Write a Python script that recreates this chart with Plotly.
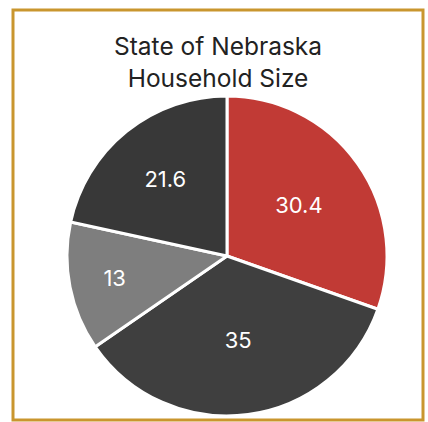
import plotly.graph_objects as go

categories = ["Slice A", "Slice B", "Slice C", "Slice D"]
values = [30.4, 35, 13, 21.6]
colors = ["#c13a35", "#3f3f3f", "#7e7e7e", "#383838"]
title_lines = ["State of Nebraska", "Household Size"]

W, H = 428, 422

fig = go.Figure(go.Pie(
    labels=categories,
    values=values,
    sort=False,
    direction="clockwise",
    rotation=0,
    marker=dict(colors=colors, line=dict(color="white", width=3)),
    textinfo="value",
    textposition="inside",
    insidetextorientation="horizontal",
    textfont=dict(color="white", size=22, family="Inter, Open Sans, sans-serif"),
    showlegend=False,
    domain=dict(x=[67 / W, 387 / W], y=[1 - 416 / H, 1 - 96 / H]),
    hoverinfo="label+value",
))

fig.add_annotation(
    text="<br>".join(title_lines),
    x=218 / W, y=1 - 29 / H, xref="paper", yref="paper",
    xanchor="center", yanchor="top", showarrow=False,
    font=dict(size=24.5, color="#222222", family="Inter, Open Sans, sans-serif"),
    align="center",
)

fig.add_shape(
    type="rect", xref="paper", yref="paper",
    x0=13 / W, x1=423 / W, y0=1 - 420 / H, y1=1 - 10 / H,
    line=dict(color="#c9962e", width=3), fillcolor="rgba(0,0,0,0)",
)

fig.update_layout(
    width=W, height=H,
    margin=dict(l=0, r=0, t=0, b=0),
    paper_bgcolor="white",
    plot_bgcolor="white",
)

fig.write_html(
    "out.html",
    config={"displayModeBar": False},
    post_script="document.body.style.margin='0';document.body.style.padding='0';",
)
